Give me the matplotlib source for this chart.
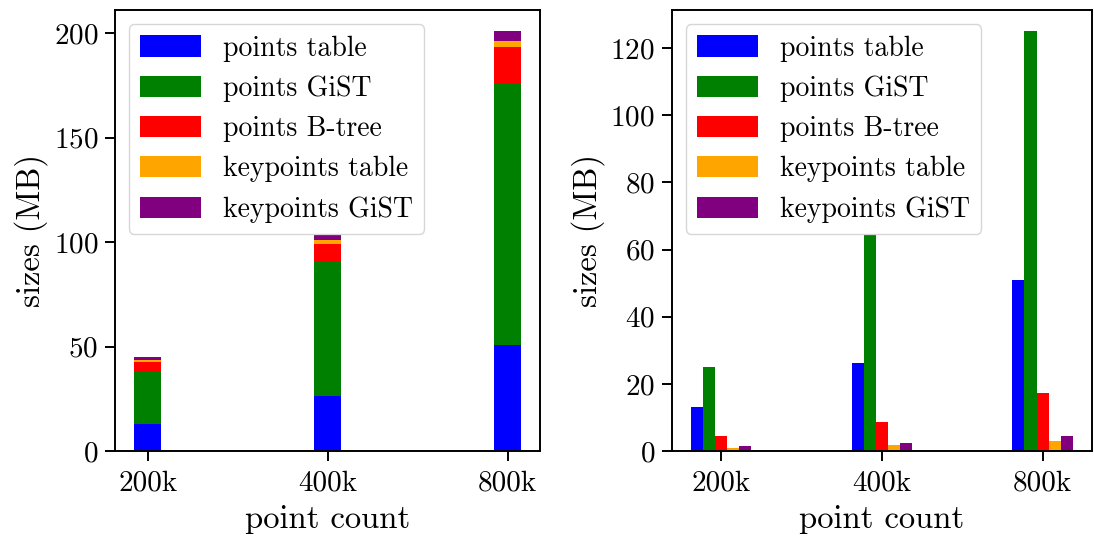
import numpy as np
import matplotlib
matplotlib.use("Agg")
import matplotlib.pyplot as plt
from matplotlib.ticker import MultipleLocator

plt.rcParams['font.family'] = 'cmr10'
plt.rcParams['mathtext.fontset'] = 'cm'
plt.rcParams['axes.unicode_minus'] = False
plt.rcParams['axes.formatter.use_mathtext'] = True
plt.rcParams['axes.linewidth'] = 1.4
plt.rcParams['xtick.major.size'] = 7
plt.rcParams['ytick.major.size'] = 7
plt.rcParams['xtick.major.width'] = 1.4
plt.rcParams['ytick.major.width'] = 1.4
plt.rcParams['xtick.major.pad'] = 7
plt.rcParams['ytick.major.pad'] = 5

counts = ['200k', '400k', '800k']
points_table = [13.2, 26.2, 51.0]
points_gist = [25.0, 64.3, 125.0]
points_btree = [4.5, 8.7, 17.2]
keypoints_table = [0.9, 1.7, 3.1]
keypoints_gist = [1.5, 2.3, 4.6]

series = [points_table, points_gist, points_btree, keypoints_table, keypoints_gist]
names = ['points table', 'points GiST', 'points B-tree', 'keypoints table', 'keypoints GiST']
colors = ['blue', 'green', 'red', 'orange', 'purple']

fig = plt.figure(figsize=(10.94, 5.39), dpi=100)
ax1 = fig.add_axes([0.105, 0.163, 0.389, 0.818])
ax2 = fig.add_axes([0.614, 0.163, 0.384, 0.818])

x = np.arange(len(counts))

# stacked
bottom = np.zeros(len(counts))
for vals, name, c in zip(series, names, colors):
    ax1.bar(x, vals, 0.15, bottom=bottom, color=c, label=name)
    bottom += np.array(vals)
ax1.yaxis.set_major_locator(MultipleLocator(50))

# grouped
w = 0.075
for i, (vals, name, c) in enumerate(zip(series, names, colors)):
    ax2.bar(x + (i - 2) * w, vals, w, color=c, label=name)

for ax in (ax1, ax2):
    ax.set_xticks(x)
    ax.set_xticklabels(counts)
    ax.set_xlabel('point count', fontsize=23.5, labelpad=6)
    ax.set_ylabel('sizes (MB)', fontsize=23.5)
    ax.tick_params(labelsize=21)
    ax.legend(loc='upper left', fontsize=20, handlelength=2.2, handleheight=0.8)

fig.savefig('out.png', dpi=100)
